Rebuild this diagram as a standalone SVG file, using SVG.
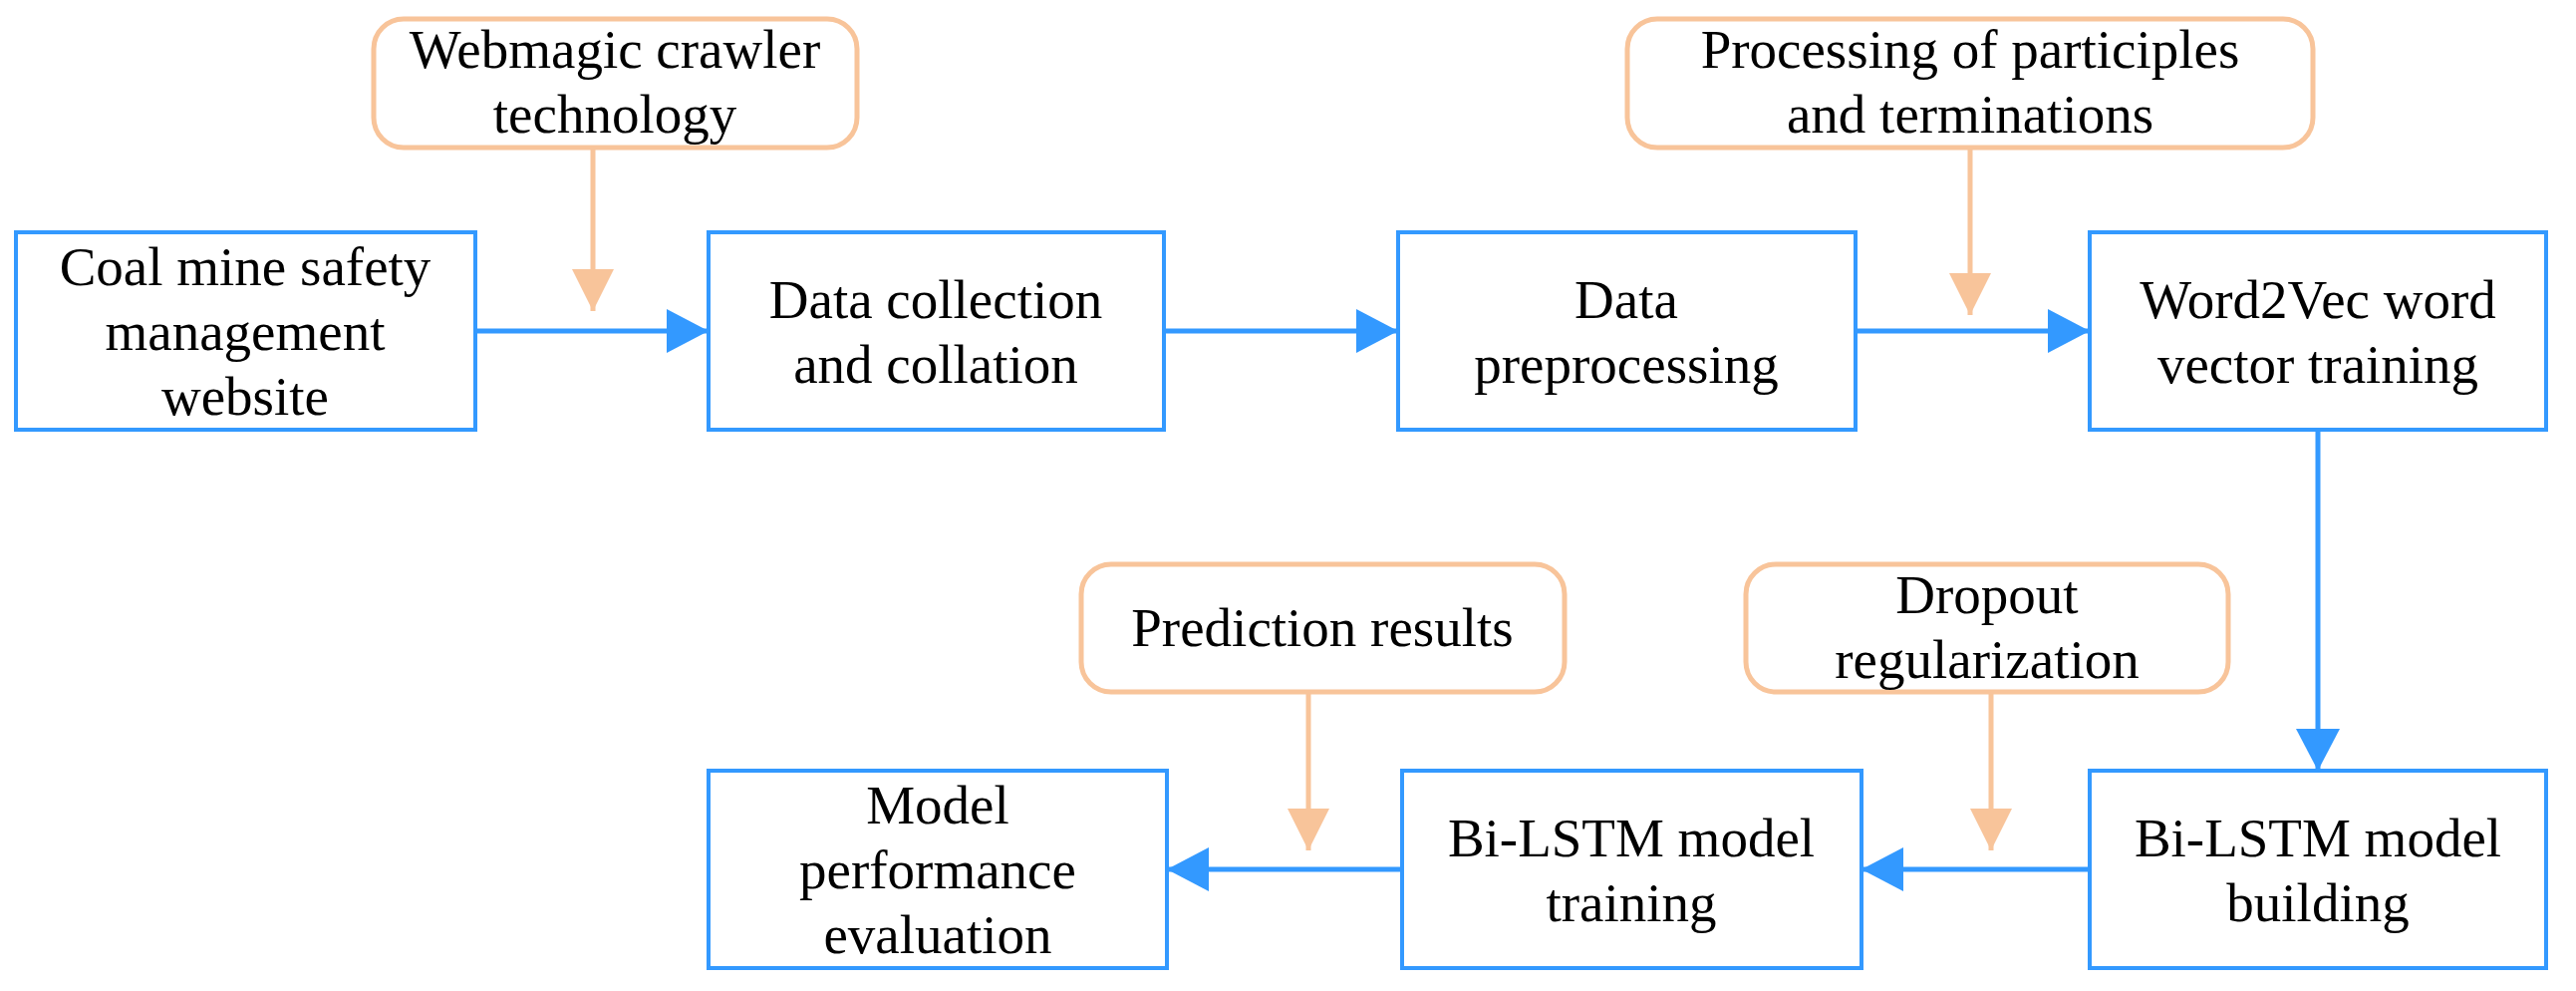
<svg xmlns="http://www.w3.org/2000/svg" width="2585" height="994" viewBox="0 0 2585 994">
<style>
.b{fill:#fff;stroke:#3399ff;stroke-width:4}
.o{fill:#fff;stroke:#f8c49a;stroke-width:5}
.t{font-family:"Liberation Serif",serif;font-size:55px;fill:#000;text-anchor:middle}
.cb{stroke:#3399ff;stroke-width:5;fill:none}
.co{stroke:#f8c49a;stroke-width:5;fill:none}
</style>
<defs>
<marker id="ab" markerUnits="userSpaceOnUse" markerWidth="42" markerHeight="44" refX="42" refY="22" orient="auto"><path d="M0,0L42,22L0,44z" fill="#3399ff"/></marker>
<marker id="ao" markerUnits="userSpaceOnUse" markerWidth="42" markerHeight="42" refX="42" refY="21" orient="auto"><path d="M0,0L42,21L0,42z" fill="#f8c49a"/></marker>
</defs>
<rect width="2585" height="994" fill="#fff"/>
<g id="n1"><rect class="b" x="16" y="233" width="461" height="198"/><text class="t"><tspan x="246" y="286">Coal mine safety</tspan><tspan x="246" y="351">management</tspan><tspan x="246" y="416">website</tspan></text></g>
<g id="n2"><rect class="b" x="711" y="233" width="457" height="198"/><text class="t"><tspan x="939" y="319">Data collection</tspan><tspan x="939" y="384">and collation</tspan></text></g>
<g id="n3"><rect class="b" x="1403" y="233" width="459" height="198"/><text class="t"><tspan x="1632" y="319">Data</tspan><tspan x="1632" y="384">preprocessing</tspan></text></g>
<g id="n4"><rect class="b" x="2097" y="233" width="458" height="198"/><text class="t"><tspan x="2326" y="319">Word2Vec word</tspan><tspan x="2326" y="384">vector training</tspan></text></g>
<g id="n5"><rect class="b" x="711" y="773" width="460" height="198"/><text class="t"><tspan x="941" y="826">Model</tspan><tspan x="941" y="891">performance</tspan><tspan x="941" y="956">evaluation</tspan></text></g>
<g id="n6"><rect class="b" x="1407" y="773" width="461" height="198"/><text class="t"><tspan x="1637" y="859">Bi-LSTM model</tspan><tspan x="1637" y="924">training</tspan></text></g>
<g id="n7"><rect class="b" x="2097" y="773" width="458" height="198"/><text class="t"><tspan x="2326" y="859">Bi-LSTM model</tspan><tspan x="2326" y="924">building</tspan></text></g>
<g id="o1"><rect class="o" x="375" y="19" width="485" height="129" rx="30"/><text class="t"><tspan x="617" y="68">Webmagic crawler</tspan><tspan x="617" y="133">technology</tspan></text></g>
<g id="o2"><rect class="o" x="1633" y="19" width="688" height="129" rx="30"/><text class="t"><tspan x="1977" y="68">Processing of participles</tspan><tspan x="1977" y="133">and terminations</tspan></text></g>
<g id="o3"><rect class="o" x="1085" y="566" width="485" height="128" rx="30"/><text class="t"><tspan x="1327" y="648">Prediction results</tspan></text></g>
<g id="o4"><rect class="o" x="1752" y="566" width="484" height="128" rx="30"/><text class="t"><tspan x="1994" y="615">Dropout</tspan><tspan x="1994" y="680">regularization</tspan></text></g>
<g id="connectors">
<line class="cb" x1="477" y1="332" x2="711" y2="332" marker-end="url(#ab)"/>
<line class="cb" x1="1168" y1="332" x2="1403" y2="332" marker-end="url(#ab)"/>
<line class="cb" x1="1862" y1="332" x2="2097" y2="332" marker-end="url(#ab)"/>
<line class="cb" x1="2326" y1="431" x2="2326" y2="773" marker-end="url(#ab)"/>
<line class="cb" x1="2097" y1="872" x2="1868" y2="872" marker-end="url(#ab)"/>
<line class="cb" x1="1407" y1="872" x2="1171" y2="872" marker-end="url(#ab)"/>
<line class="co" x1="595" y1="148" x2="595" y2="312" marker-end="url(#ao)"/>
<line class="co" x1="1977" y1="148" x2="1977" y2="316" marker-end="url(#ao)"/>
<line class="co" x1="1313" y1="694" x2="1313" y2="853" marker-end="url(#ao)"/>
<line class="co" x1="1998" y1="694" x2="1998" y2="853" marker-end="url(#ao)"/>
</g>
</svg>
